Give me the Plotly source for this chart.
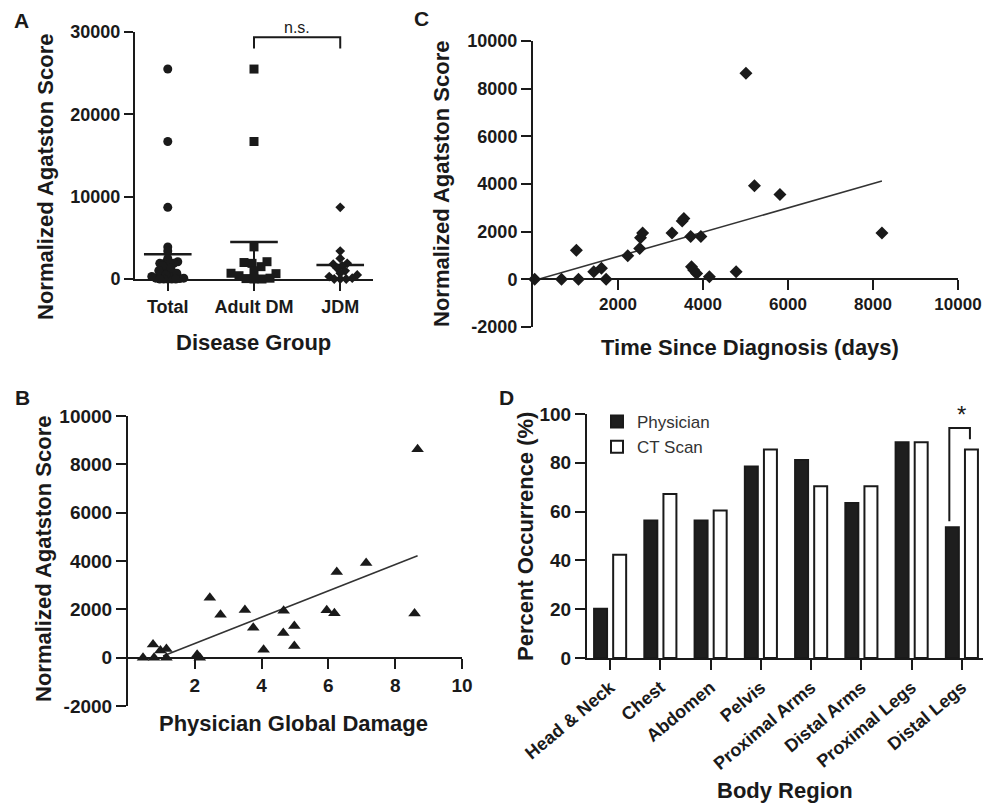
import plotly.graph_objects as go

# The page body adds an 8 px offset; the figure fills the rest of the 993x807 window.
PAGE_W, PAGE_H, OFF = 993, 807, 8
W, H = PAGE_W - OFF, PAGE_H - OFF
FONT = "Liberation Sans, Arial, sans-serif"
INK = "#1a1a1a"

# ---------------- Data ----------------
# Panel A
groups = ["Total", "Adult DM", "JDM"]
adult_dm = [25500, 16700, 3900, 2100, 2000, 1900, 1500, 1000, 700, 650, 400, 100, 50, 0, 0]
jdm = [8700, 3400, 2500, 1900, 1800, 1600, 1300, 1000, 700, 500, 300, 100, 0, 0, 0]
total = adult_dm + jdm
group_line = [3000, 4500, 1700]
a_ticks = [0, 10000, 20000, 30000]

# Panel B
pgd = [0.45, 0.75, 0.78, 0.97, 1.15, 1.15, 2.07, 2.15, 2.45, 2.77, 3.5, 3.75, 4.06,
       4.66, 4.65, 4.98, 4.98, 5.95, 6.18, 6.25, 7.13, 8.58, 8.67]
pgd_score = [0, 550, 0, 300, 360, 0, 120, 0, 2480, 1780, 1970, 1240, 330,
             1940, 1020, 1310, 480, 1960, 1840, 3540, 3920, 1830, 8620]
pgd_fit_x = [1.05, 8.67]
pgd_fit_y = [70, 4220]
b_xticks = [2, 4, 6, 8, 10]

# Panel C
tsd = [40, 670, 1020, 1070, 1430, 1610, 1720, 2230, 2510, 2530, 2580, 3270, 3510, 3550,
       3710, 3730, 3780, 3850, 3950, 4150, 4780, 5010, 5210, 5810, 8210]
tsd_score = [0, 0, 1220, 0, 320, 460, 0, 990, 1290, 1750, 1940, 1940, 2450, 2550,
             1800, 530, 390, 250, 1800, 110, 320, 8650, 3930, 3560, 1940]
tsd_fit_x = [0, 8210]
tsd_fit_y = [-60, 4125]
c_xticks = [2000, 4000, 6000, 8000, 10000]
score_ticks = [-2000, 0, 2000, 4000, 6000, 8000, 10000]

# Panel D
regions = ["Head & Neck", "Chest", "Abdomen", "Pelvis", "Proximal Arms",
           "Distal Arms", "Proximal Legs", "Distal Legs"]
physician = [20.2, 56.4, 56.4, 78.5, 81.1, 63.5, 88.4, 53.6]
ct_scan = [42.3, 67.2, 60.4, 85.4, 70.4, 70.4, 88.4, 85.4]
d_ticks = [0, 20, 40, 60, 80, 100]


def fx(px):
    return (px - OFF) / W


def fy(py):
    return 1 - (py - OFF) / H


# A: pixel geometry
A_X0, A_X1, A_Y0, A_Y1 = 135, 373, 32, 279
A_XR = [-0.38, 2.38]
A_YR = [0, 30000]
a_px_per_unit = (A_X1 - A_X0) / (A_XR[1] - A_XR[0])
a_px_per_val = (A_Y1 - A_Y0) / (A_YR[1] - A_YR[0])


def beeswarm(values, center, diam):
    placed = []
    xs = [None] * len(values)
    order = sorted(range(len(values)), key=lambda i: values[i])
    cands = [0]
    for k in range(1, 80):
        cands += [k, -k]
    for i in order:
        yp = values[i] * a_px_per_val
        for c in cands:
            if all((c - px) ** 2 + (yp - py) ** 2 >= diam ** 2 for px, py in placed):
                placed.append((c, yp))
                xs[i] = center + c / a_px_per_unit
                break
    return xs


fig = go.Figure()

axis_common = dict(showgrid=False, zeroline=False, showline=True, linewidth=2,
                   linecolor=INK, ticks="outside", ticklen=10, tickwidth=2,
                   tickcolor=INK, mirror=False, automargin=False)

# ---------- Panel A ----------
fig.add_trace(go.Scatter(
    x=[0, 1, 2], y=group_line, mode="markers", xaxis="x", yaxis="y",
    marker=dict(symbol="line-ew", size=34, line=dict(width=2.5, color=INK)),
    error_y=dict(type="data", symmetric=False, array=[0, 0, 0], arrayminus=group_line,
                 thickness=2, width=0, color=INK),
    showlegend=False, cliponaxis=False, hoverinfo="skip"))
fig.add_trace(go.Scatter(
    x=beeswarm(total, 0, 3.6), y=total, mode="markers", xaxis="x", yaxis="y",
    marker=dict(symbol="circle", size=9, color=INK), showlegend=False, cliponaxis=False))
fig.add_trace(go.Scatter(
    x=beeswarm(adult_dm, 1, 7.5), y=adult_dm, mode="markers", xaxis="x", yaxis="y",
    marker=dict(symbol="square", size=9, color=INK), showlegend=False, cliponaxis=False))
fig.add_trace(go.Scatter(
    x=beeswarm(jdm, 2, 5.5), y=jdm, mode="markers", xaxis="x", yaxis="y",
    marker=dict(symbol="diamond", size=7.5, color=INK), showlegend=False, cliponaxis=False))

# ---------- Panel B ----------
fig.add_trace(go.Scatter(
    x=pgd_fit_x, y=pgd_fit_y, mode="lines", xaxis="x2", yaxis="y2",
    line=dict(color="#333333", width=1.6), showlegend=False, hoverinfo="skip"))
fig.add_trace(go.Scatter(
    x=pgd, y=pgd_score, mode="markers", xaxis="x2", yaxis="y2",
    marker=dict(symbol="triangle-up", size=11, color=INK), showlegend=False, cliponaxis=False))

# ---------- Panel C ----------
fig.add_trace(go.Scatter(
    x=tsd_fit_x, y=tsd_fit_y, mode="lines", xaxis="x3", yaxis="y3",
    line=dict(color="#333333", width=1.6), showlegend=False, hoverinfo="skip"))
fig.add_trace(go.Scatter(
    x=tsd, y=tsd_score, mode="markers", xaxis="x3", yaxis="y3",
    marker=dict(symbol="diamond", size=10, color=INK), showlegend=False, cliponaxis=False))

# ---------- Panel D ----------
fig.add_trace(go.Bar(
    x=list(range(len(regions))), y=physician, name="Physician", xaxis="x4", yaxis="y4",
    marker=dict(color="#1e1e1e", line=dict(color=INK, width=2))))
fig.add_trace(go.Bar(
    x=list(range(len(regions))), y=ct_scan, name="CT Scan", xaxis="x4", yaxis="y4",
    marker=dict(color="white", line=dict(color=INK, width=2))))

tick_font = dict(family=FONT, size=18, color=INK, weight="bold")


def labels(vals):
    return [str(v) for v in vals]


fig.update_layout(
    width=W, height=H, margin=dict(l=0, r=0, t=0, b=0, autoexpand=False),
    paper_bgcolor="white", plot_bgcolor="white",
    font=dict(family=FONT, color=INK),
    barmode="group", bargap=0.24, bargroupgap=0.32,
    xaxis=dict(axis_common, domain=[fx(A_X0), fx(A_X1)], range=A_XR, anchor="y",
               tickvals=[0, 1, 2], ticktext=groups, tickfont=tick_font),
    yaxis=dict(axis_common, domain=[fy(A_Y1), fy(A_Y0)], range=A_YR, anchor="x",
               tickvals=a_ticks, ticktext=labels(a_ticks), tickfont=tick_font, ticklen=9),
    xaxis2=dict(axis_common, domain=[fx(128), fx(462)], range=[0, 10], anchor="free",
                position=fy(658), tickvals=b_xticks, ticktext=labels(b_xticks),
                tickfont=dict(tick_font, size=19)),
    yaxis2=dict(axis_common, domain=[fy(706), fy(416)], range=[-2000, 10000], anchor="x2",
                tickvals=score_ticks, ticktext=labels(score_ticks),
                tickfont=dict(tick_font, size=19)),
    xaxis3=dict(axis_common, domain=[fx(533), fx(958)], range=[0, 10000], anchor="free",
                position=fy(279), tickvals=c_xticks, ticktext=labels(c_xticks),
                tickfont=dict(tick_font, size=17)),
    yaxis3=dict(axis_common, domain=[fy(327), fy(41)], range=[-2000, 10000], anchor="x3",
                tickvals=score_ticks, ticktext=labels(score_ticks), tickfont=tick_font),
    xaxis4=dict(axis_common, domain=[fx(587), fx(983)], range=[-0.46, 7.42], anchor="y4",
                tickvals=list(range(len(regions))), ticktext=regions, tickangle=-40,
                tickfont=dict(tick_font, size=18)),
    yaxis4=dict(axis_common, domain=[fy(658), fy(414)], range=[0, 100], anchor="x4",
                tickvals=d_ticks, ticktext=labels(d_ticks), tickfont=dict(tick_font, size=19)),
    legend=dict(x=fx(597), y=fy(404), xanchor="left", yanchor="top",
                font=dict(family=FONT, size=17, color="#333333"),
                bgcolor="rgba(0,0,0,0)", itemwidth=30),
    showlegend=True,
)

# Brackets
fig.add_shape(type="path", xref="x", yref="y", path="M 1,28000 L 1,29350 L 2,29350 L 2,28000",
              line=dict(color=INK, width=2))
fig.add_shape(type="path", xref="x4", yref="y4",
              path="M 6.75,56 L 6.75,94.3 L 7.16,94.3 L 7.16,89.7",
              line=dict(color=INK, width=2))

annots = [
    dict(text="A", x=fx(21), y=fy(20)),
    dict(text="B", x=fx(22), y=fy(397)),
    dict(text="C", x=fx(421), y=fy(18)),
    dict(text="D", x=fx(506), y=fy(397)),
]
for a in annots:
    fig.add_annotation(xref="paper", yref="paper", showarrow=False, xanchor="center",
                       yanchor="middle",
                       font=dict(family=FONT, size=21, color=INK, weight="bold"), **a)

title_font = dict(family=FONT, size=22, color=INK, weight="bold")
titles = [
    dict(text="Normalized Agatston Score", x=fx(45), y=fy(177), textangle=-90),
    dict(text="Disease Group", x=fx(253), y=fy(342)),
    dict(text="Normalized Agatston Score", x=fx(43), y=fy(559), textangle=-90),
    dict(text="Physician Global Damage", x=fx(293), y=fy(723)),
    dict(text="Normalized Agatston Score", x=fx(441), y=fy(184), textangle=-90),
    dict(text="Time Since Diagnosis (days)", x=fx(750), y=fy(347)),
    dict(text="Percent Occurrence (%)", x=fx(525), y=fy(537), textangle=-90),
    dict(text="Body Region", x=fx(785), y=fy(790)),
]
for t in titles:
    fig.add_annotation(xref="paper", yref="paper", showarrow=False, xanchor="center",
                       yanchor="middle", font=title_font, **t)

fig.add_annotation(xref="paper", yref="paper", x=fx(297), y=fy(27), text="n.s.",
                   showarrow=False, font=dict(family=FONT, size=16, color=INK),
                   xanchor="center", yanchor="middle")
fig.add_annotation(xref="paper", yref="paper", x=fx(961), y=fy(414), text="*",
                   showarrow=False, font=dict(family=FONT, size=24, color=INK),
                   xanchor="center", yanchor="middle")

fig.write_html("out.html")
